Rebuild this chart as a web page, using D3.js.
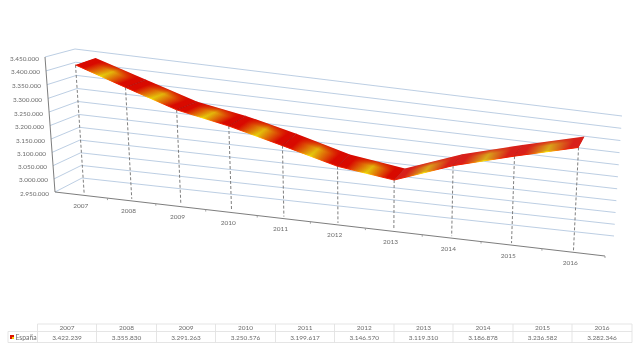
<!DOCTYPE html>
<html>
<head>
<meta charset="utf-8">
<script src="https://cdn.jsdelivr.net/npm/d3@7"></script>
<style>
  html, body { margin: 0; padding: 0; background: #fff; }
  svg { display: block; filter: blur(0.3px); }
  text { font-family: Lato, "Open Sans", sans-serif; }
</style>
</head>
<body>
<svg id="chart" width="640" height="351"></svg>
<script>
const years = ["2007", "2008", "2009", "2010", "2011", "2012", "2013", "2014", "2015", "2016"];
const espana = [3422239, 3355830, 3291263, 3250576, 3199617, 3146570, 3119310, 3186878, 3236582, 3282346];
const valueLabels = ["3.422.239", "3.355.830", "3.291.263", "3.250.576", "3.199.617", "3.146.570", "3.119.310", "3.186.878", "3.236.582", "3.282.346"];
const yTicks = [2950000, 3000000, 3050000, 3100000, 3150000, 3200000, 3250000, 3300000, 3350000, 3400000, 3450000];
const seriesName = "España";

const svg = d3.select("#chart");
const fmt = d3.format(",.0f");
const esNum = v => fmt(v).replace(/,/g, ".");

// homografia cuadrado unidad -> cuadrilatero (p00, p10, p01, p11)
function quad(p00, p10, p01, p11) {
  const sx = p00[0] - p10[0] - p01[0] + p11[0], sy = p00[1] - p10[1] - p01[1] + p11[1];
  const d1x = p10[0] - p11[0], d1y = p10[1] - p11[1], d2x = p01[0] - p11[0], d2y = p01[1] - p11[1];
  const den = d1x * d2y - d2x * d1y;
  const g = (sx * d2y - d2x * sy) / den, h = (d1x * sy - sx * d1y) / den;
  const a = p10[0] - p00[0] + g * p10[0], b = p01[0] - p00[0] + h * p01[0];
  const d = p10[1] - p00[1] + g * p10[1], e = p01[1] - p00[1] + h * p01[1];
  return (u, v) => {
    const w = g * u + h * v + 1;
    return [(a * u + b * v + p00[0]) / w, (d * u + e * v + p00[1]) / w];
  };
}

// plano frontal (ejes), plano de la cinta y pared del fondo
const front = quad([55, 192], [605, 256], [45, 57], [614, 98]);
const back = quad([82, 178], [614, 236], [75, 49], [622, 116]);
const plane = (u, v) => {
  const p = front(u, v);
  return [p[0] + 0.3, p[1] - 2];
};

const uScale = d3.scaleBand().domain(years).range([0.012, 1]);
const vScale = d3.scaleLinear().domain([2950000, 3450000]).range([0, 1]);
const uMid = y => uScale(y) + uScale.bandwidth() / 2;
const pathOf = pts => d3.line()(pts);

// profundidad de la cinta a lo largo del eje
const depthX = d3.scaleLinear().domain([0.05, 0.25, 0.45, 0.95]).range([20, 21, 14, 6]);
const depthY = d3.scaleLinear().domain([0.05, 0.25, 0.45, 0.95]).range([-7, -8, -12, -11]);

// rejilla: pared lateral y pared del fondo
const grid = svg.append("g").attr("fill", "none").attr("stroke", "#b4c8e0").attr("stroke-width", 0.9);
yTicks.forEach(t => {
  const v = vScale(t);
  grid.append("path").attr("d", pathOf([front(0, v), back(0, v), back(1, v)]));
});

// ejes
const axes = svg.append("g").attr("fill", "none").attr("stroke", "#6e6e6e").attr("stroke-width", 0.9);
axes.append("path").attr("d", pathOf([front(0, 1), front(0, 0), front(1, 0)]));
years.forEach(y => {
  const p = front(uScale(y) + uScale.bandwidth(), 0);
  axes.append("path").attr("d", pathOf([p, [p[0], p[1] + 2]])).attr("stroke", "#999");
});

svg.append("g").selectAll("text").data(yTicks).join("text")
  .attr("x", d => front(0, vScale(d))[0] - 6)
  .attr("y", d => front(0, vScale(d))[1] + 3.5)
  .attr("text-anchor", "end").attr("font-size", 6.4).attr("fill", "#6c6c6c")
  .text(esNum);

svg.append("g").selectAll("text").data(years).join("text")
  .attr("x", d => front(uMid(d), 0)[0] - 3)
  .attr("y", d => front(uMid(d), 0)[1] + 12.5)
  .attr("text-anchor", "middle").attr("font-size", 6.5).attr("fill", "#6c6c6c")
  .text(d => d);

// lineas de caida
svg.append("g").attr("stroke", "#707070").attr("stroke-width", 0.9).attr("stroke-dasharray", "3,2")
  .selectAll("path").data(years).join("path")
  .attr("d", (y, i) => pathOf([plane(uMid(y), vScale(espana[i])), plane(uMid(y), 0)]));

// cinta
const defs = svg.append("defs");
const ribbon = svg.append("g");
years.slice(0, -1).forEach((y, i) => {
  const y2 = years[i + 1];
  const ua = uMid(y), ub = uMid(y2);
  const a = plane(ua, vScale(espana[i])), b = plane(ub, vScale(espana[i + 1]));
  const a2 = [a[0] + depthX(ua), a[1] + depthY(ua)], b2 = [b[0] + depthX(ub), b[1] + depthY(ub)];
  const rising = espana[i + 1] > espana[i];
  const red = rising ? "#d8201a" : "#d80a00";
  const band = rising ? "#d8b41a" : "#e4cc0c";

  // la banda amarilla corre paralela a la profundidad
  const tx = (depthX(ua) + depthX(ub)) / 2, ty = (depthY(ua) + depthY(ub)) / 2;
  const tl = Math.hypot(tx, ty), nx = -ty / tl, ny = tx / tl;
  const sx = b[0] - a[0], sy = b[1] - a[1], proj = sx * nx + sy * ny;
  const grad = defs.append("linearGradient").attr("id", "g" + i).attr("gradientUnits", "userSpaceOnUse")
    .attr("x1", a[0]).attr("y1", a[1]).attr("x2", a[0] + nx * proj).attr("y2", a[1] + ny * proj);
  [[0.14, red], [0.5, band], [0.86, red]].forEach(s => grad.append("stop").attr("offset", s[0]).attr("stop-color", s[1]));

  // se apaga hacia el borde trasero
  const sl = Math.hypot(sx, sy), px = -sy / sl, py = sx / sl, across = tx * px + ty * py;
  const fade = defs.append("linearGradient").attr("id", "f" + i).attr("gradientUnits", "userSpaceOnUse")
    .attr("x1", a[0]).attr("y1", a[1]).attr("x2", a[0] + px * across).attr("y2", a[1] + py * across);
  [[0, "#fff"], [0.6, "#ddd"], [1, "#222"]].forEach(s => fade.append("stop").attr("offset", s[0]).attr("stop-color", s[1]));
  const quadPath = pathOf([a, b, b2, a2]) + "Z";
  defs.append("mask").attr("id", "m" + i).attr("maskUnits", "userSpaceOnUse")
    .attr("x", 0).attr("y", 0).attr("width", 640).attr("height", 351)
    .append("path").attr("d", quadPath).attr("fill", `url(#f${i})`);

  const edge = defs.append("linearGradient").attr("id", "e" + i).attr("gradientUnits", "userSpaceOnUse")
    .attr("x1", a[0]).attr("y1", a[1]).attr("x2", b[0]).attr("y2", b[1]);
  [[0.2, "#f02000"], [0.5, "#ffec00"], [0.8, "#f02000"]].forEach(s => edge.append("stop").attr("offset", s[0]).attr("stop-color", s[1]));

  ribbon.append("path").attr("d", quadPath).attr("fill", red);
  ribbon.append("path").attr("d", quadPath).attr("fill", `url(#g${i})`).attr("mask", `url(#m${i})`);
  ribbon.append("path").attr("d", pathOf([a, b])).attr("fill", "none").attr("stroke", `url(#e${i})`).attr("stroke-width", 1);
  if (i > 0) ribbon.append("path").attr("d", pathOf([a, a2])).attr("stroke", rising ? "#b81410" : "#a80c08").attr("stroke-width", 0.6);
});

// tabla de datos
const colX = [37.5, 96.5, 156.5, 215.5, 275.5, 334.5, 394, 453, 513, 572, 632];
const rowY = [324, 331.5, 342.5];
const table = svg.append("g").attr("stroke", "#e2e2e2").attr("stroke-width", 0.9);
table.append("line").attr("x1", colX[0]).attr("x2", colX[10]).attr("y1", rowY[0]).attr("y2", rowY[0]);
table.append("line").attr("x1", 8).attr("x2", colX[10]).attr("y1", rowY[1]).attr("y2", rowY[1]);
table.append("line").attr("x1", 8).attr("x2", colX[10]).attr("y1", rowY[2]).attr("y2", rowY[2]);
table.append("line").attr("x1", 8).attr("x2", 8).attr("y1", rowY[1]).attr("y2", rowY[2]);
colX.forEach(x => table.append("line").attr("x1", x).attr("x2", x).attr("y1", rowY[0]).attr("y2", rowY[2]));

const cells = svg.append("g").attr("text-anchor", "middle").attr("font-size", 6.5).attr("fill", "#6c6c6c");
years.forEach((y, i) => {
  const cx = (colX[i] + colX[i + 1]) / 2;
  cells.append("text").attr("x", cx).attr("y", 330).text(y);
  cells.append("text").attr("x", cx).attr("y", 339.5).text(valueLabels[i]);
});
svg.append("rect").attr("x", 10).attr("y", 335).attr("width", 4).attr("height", 4).attr("fill", "#dc1400");
svg.append("rect").attr("x", 12).attr("y", 337).attr("width", 2).attr("height", 2).attr("fill", "#f0d000");
svg.append("text").attr("x", 15.5).attr("y", 339.5).attr("font-size", 6.8).attr("fill", "#6c6c6c").text(seriesName);
</script>
</body>
</html>
